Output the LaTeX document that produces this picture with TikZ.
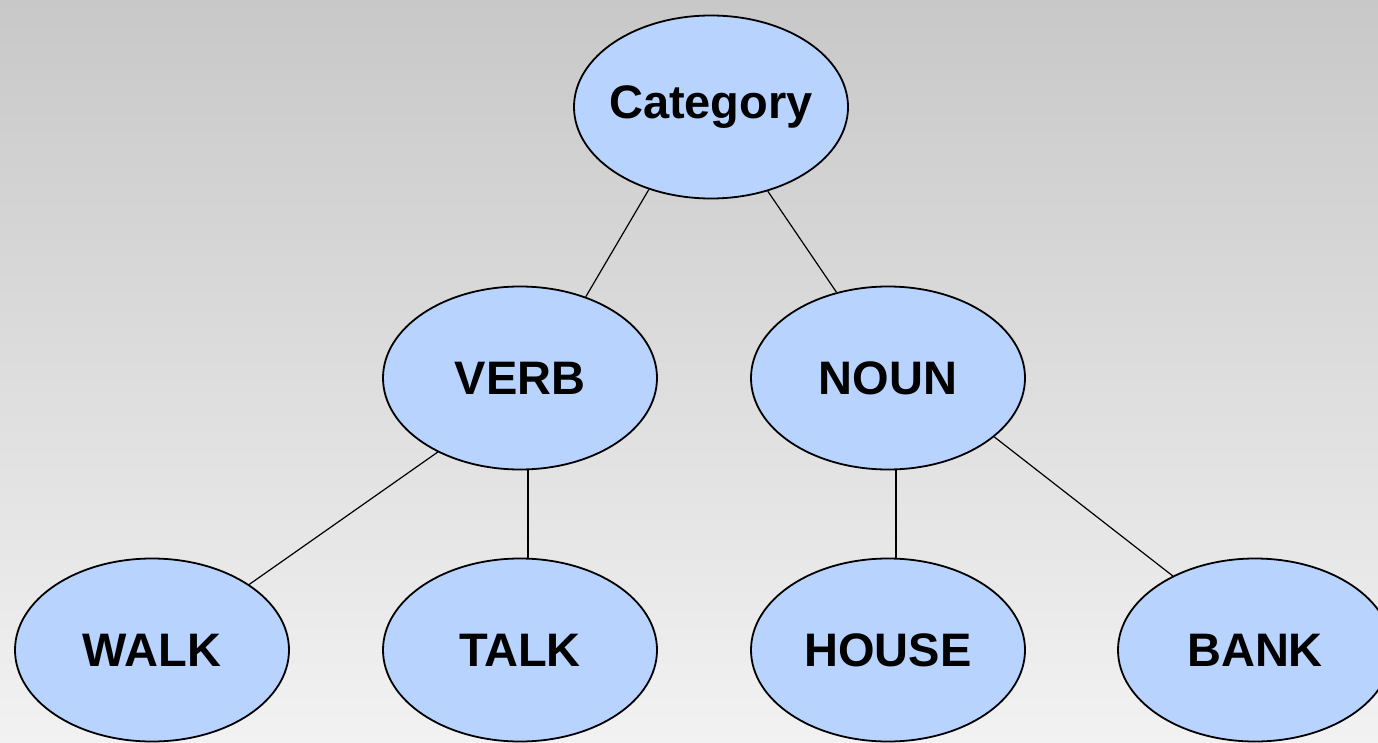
\documentclass[tikz,border=0pt]{standalone}
\usepackage{fontspec}
\setmainfont{Liberation Sans}
\usetikzlibrary{shapes.geometric}
\definecolor{nodefill}{HTML}{B9D3FF}
\definecolor{bgtop}{HTML}{C8C8C8}
\definecolor{bgbot}{HTML}{F2F2F2}
\tikzset{
  cat/.style={ellipse, draw=black, line width=1.8pt, fill=nodefill,
    minimum width=274pt, minimum height=183pt, inner sep=0pt,
    font=\fontsize{47}{56}\selectfont\bfseries},
  link/.style={line width=1.2pt, draw=black}
}
\newcommand{\lbl}[1]{\makebox[0pt]{#1}}
\begin{document}
\begin{tikzpicture}[x=1pt,y=-1pt]
\useasboundingbox (0,0) rectangle (1378,743);
\shade[top color=bgtop, bottom color=bgbot] (0,0) rectangle (1378,743);
\begin{scope}
\clip (0,0) rectangle (1378,743);
\node[cat] (category) at (711,107) {\lbl{Category}};
\node[cat] (verb) at (520,378) {\lbl{VERB}};
\node[cat] (noun) at (888,378) {\lbl{NOUN}};
\node[cat] (walk) at (152,650) {\lbl{WALK}};
\node[cat] (talk) at (520,650) {\lbl{TALK}};
\node[cat] (house) at (888,650) {\lbl{HOUSE}};
\node[cat] (bank) at (1255,650) {\lbl{BANK}};
\draw[link] (category.233) -- (verb.51);
\draw[link] (category.-56) -- (noun.121);
\draw[link] (verb.-138) -- (walk.34);
\draw[link] ([xshift=8pt]verb.south) -- ([xshift=8pt]talk.north);
\draw[link] ([xshift=8pt]noun.south) -- ([xshift=8pt]house.north);
\draw[link] (noun.-29) -- (bank.138);
\end{scope}
\end{tikzpicture}
\end{document}
